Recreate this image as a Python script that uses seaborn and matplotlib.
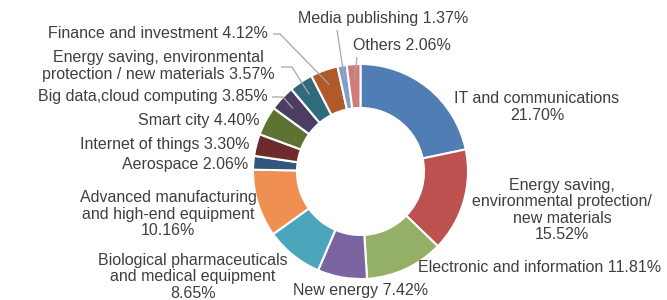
import numpy as np
import seaborn as sns
import matplotlib
matplotlib.use("Agg")
import matplotlib.pyplot as plt

# data, clockwise from 12 o'clock
labels = [
    "IT and communications\n21.70%",
    "Energy saving,\nenvironmental protection/\nnew materials\n15.52%",
    "Electronic and information 11.81%",
    "New energy 7.42%",
    "Biological pharmaceuticals\nand medical equipment\n8.65%",
    "Advanced manufacturing\nand high-end equipment\n10.16%",
    "Aerospace 2.06%",
    "Internet of things 3.30%",
    "Smart city 4.40%",
    "Big data,cloud computing 3.85%",
    "Energy saving, environmental\nprotection / new materials 3.57%",
    "Finance and investment 4.12%",
    "Media publishing 1.37%",
    "Others 2.06%",
]
shares = [21.70, 15.52, 11.81, 7.42, 8.65, 10.16, 2.06, 3.30, 4.40, 3.85, 3.57, 4.12, 1.37, 2.06]
colors = ["#4f7db4", "#bd5150", "#93b066", "#7a65a0", "#4ba6bc", "#f08f52",
          "#34557c", "#6f2b2b", "#5e7333", "#4c3d62", "#2f6b7a", "#b05a2a",
          "#7ba0cd", "#d07a7a"]

# layout in pixels (top-down): text position, alignment, optional leader elbow
label_pos = [
    (537, 107, "center"), (562, 210, "center"), (418, 268, "left"),
    (361, 290, "center"), (193, 277, "center"), (168, 214, "center"),
    (248, 165, "right"), (250, 144, "right"), (260, 121, "right"),
    (268, 97, "right"), (158, 66, "center"), (268, 33, "right"),
    (298, 19, "left"), (353, 46, "left"),
]
leaders = {
    9: [(272, 97), (283, 97)],
    10: [(281, 67), (292, 67)],
    11: [(273, 34), (280, 34)],
    12: [(337, 30)],
    13: [(357, 57)],
}

W, H = 667, 300
cx, cy, R, ring = 360.5, 171.5, 107.5, 44

sns.set_theme(style="white")
plt.rcParams["font.family"] = ["Liberation Sans", "DejaVu Sans"]

fig = plt.figure(figsize=(W / 100, H / 100), dpi=100)
ax = fig.add_axes([0, 0, 1, 1])

wedges, _ = ax.pie(
    shares, colors=colors, startangle=90, counterclock=False,
    center=(cx, H - cy), radius=R,
    wedgeprops=dict(width=ring, edgecolor="white", linewidth=1.5),
)
ax.set_xlim(0, W)
ax.set_ylim(0, H)
ax.set_aspect("equal")
ax.axis("off")

txt_color = "#3f3f3f"
for i, (lab, (x, y, ha)) in enumerate(zip(labels, label_pos)):
    ax.text(x, H - y, lab, ha=ha, va="center", fontsize=11.5,
            color=txt_color, linespacing=1.1, multialignment="center")
    if i in leaders:
        w = wedges[i]
        mid = np.deg2rad((w.theta1 + w.theta2) / 2)
        ex = cx + 0.86 * R * np.cos(mid)
        ey = (H - cy) + 0.86 * R * np.sin(mid)
        pts = [(px, H - py) for px, py in leaders[i]] + [(ex, ey)]
        xs, ys = zip(*pts)
        ax.plot(xs, ys, color="#a6a6a6", lw=0.9, solid_capstyle="butt")

fig.savefig("out.png", dpi=100)
